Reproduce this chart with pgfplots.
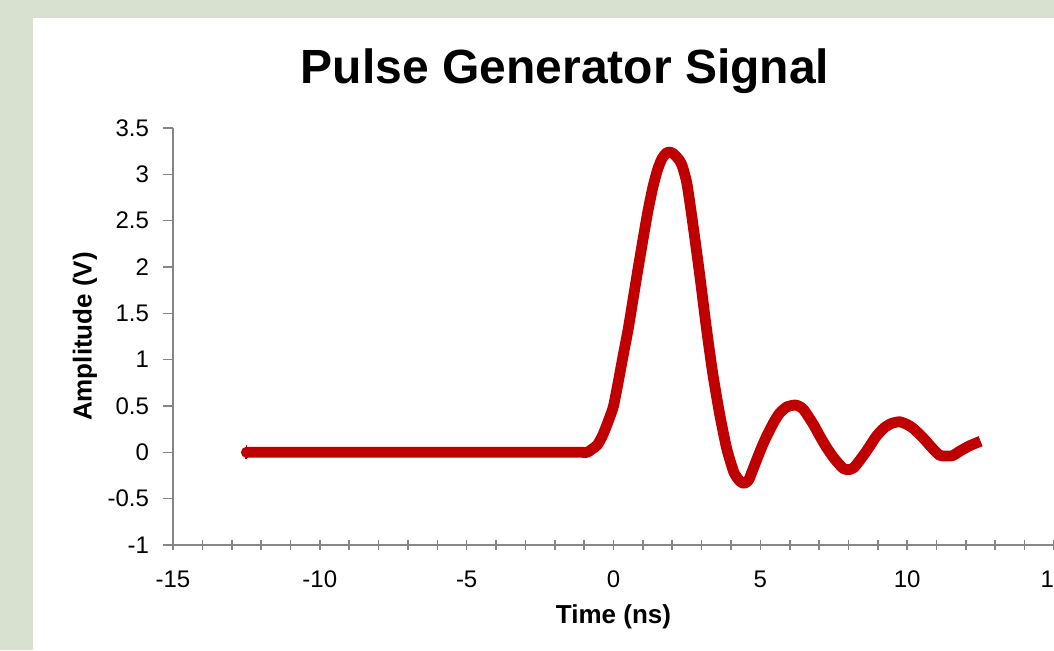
\documentclass[border=0pt]{standalone}
\usepackage{pgfplots}
\pgfplotsset{compat=1.18}
\usepackage{fontspec}
\setmainfont{Liberation Sans}
\definecolor{bggreen}{RGB}{216,224,207}
\definecolor{axgray}{RGB}{134,134,134}
\definecolor{sigred}{RGB}{192,0,0}
\begin{document}
\begin{tikzpicture}
\fill[bggreen] (0,0) rectangle (527pt,325pt);
\fill[white] (16.5pt,0) rectangle (560pt,316pt);
\node[font=\bfseries\fontsize{24}{28}\selectfont, anchor=center] at (282.5pt,289.5pt) {Pulse Generator Signal};
\begin{axis}[
  at={(86.5pt,52.5pt)}, anchor=south west,
  scale only axis, width=440.5pt, height=208.5pt,
  xmin=-15, xmax=15, ymin=-1, ymax=3.5,
  axis x line=bottom, axis y line=left,
  axis line style={axgray, line width=0.8pt, -},
  xtick={-15,-10,...,15}, minor x tick num=4,
  ytick={-1,-0.5,...,3.5},
  x tick style={axgray, line width=0.8pt}, y tick style={axgray, line width=0.8pt},
  xtick align=center, ytick align=outside,
  major tick length=5pt, minor tick length=5pt,
  tick label style={font=\fontsize{12}{14}\selectfont, black},
  /pgf/number format/assume math mode=true,
  yticklabel style={/pgf/number format/fixed, xshift=-3.5pt},
  xticklabel style={yshift=-7pt},
  xlabel={Time (ns)}, ylabel={Amplitude (V)},
  label style={font=\bfseries\fontsize{13}{15}\selectfont},
  xlabel style={at={(axis description cs:0.5,-0.1727)}, anchor=center},
  ylabel style={at={(axis description cs:-0.0999,0.5)}, anchor=center, rotate=0},
  clip=false,
]
\addplot[sigred, line width=5.4pt, line join=round, smooth, tension=0.4, mark=diamond*, mark size=3.2pt, mark indices={1,76}, mark options={solid, line width=0pt}] coordinates {
(-12.5,0) (-12.3,0) (-10,0) (-7.5,0) (-5,0) (-3,0) (-2,0) (-1.5,0) (-1.2,0) (-1.05,0)
(-0.9,0) (-0.75,0.03) (-0.55,0.08) (-0.36,0.19) (-0.15,0.36)
(0.0,0.50) (0.15,0.74) (0.32,1.03) (0.5,1.33) (0.66,1.64) (0.83,1.97)
(1.0,2.29) (1.17,2.60) (1.34,2.86) (1.5,3.05) (1.65,3.17) (1.8,3.23)
(1.92,3.24) (2.05,3.22) (2.2,3.17) (2.33,3.10) (2.5,2.90) (2.70,2.47)
(2.93,1.93) (3.16,1.35) (3.38,0.85) (3.61,0.42) (3.84,0.06) (4.0,-0.12)
(4.12,-0.23) (4.3,-0.31) (4.45,-0.335) (4.6,-0.30) (4.74,-0.19) (5.0,0.02)
(5.20,0.165) (5.45,0.32) (5.65,0.42) (5.9,0.49) (6.2,0.51) (6.45,0.47)
(6.79,0.31) (7.0,0.19) (7.24,0.06) (7.5,-0.06) (7.69,-0.13) (7.85,-0.18)
(8.05,-0.185) (8.2,-0.16) (8.4,-0.08) (8.65,0.03) (8.94,0.17) (9.2,0.26)
(9.45,0.31) (9.74,0.33) (10.0,0.30) (10.2,0.26) (10.53,0.16) (10.87,0.04)
(11.1,-0.03) (11.3,-0.04) (11.55,-0.035) (11.78,0.01) (12.12,0.07) (12.5,0.12)
};
\end{axis}
\pgfresetboundingbox
\useasboundingbox (0,0) rectangle (527pt,325pt);
\end{tikzpicture}
\end{document}
